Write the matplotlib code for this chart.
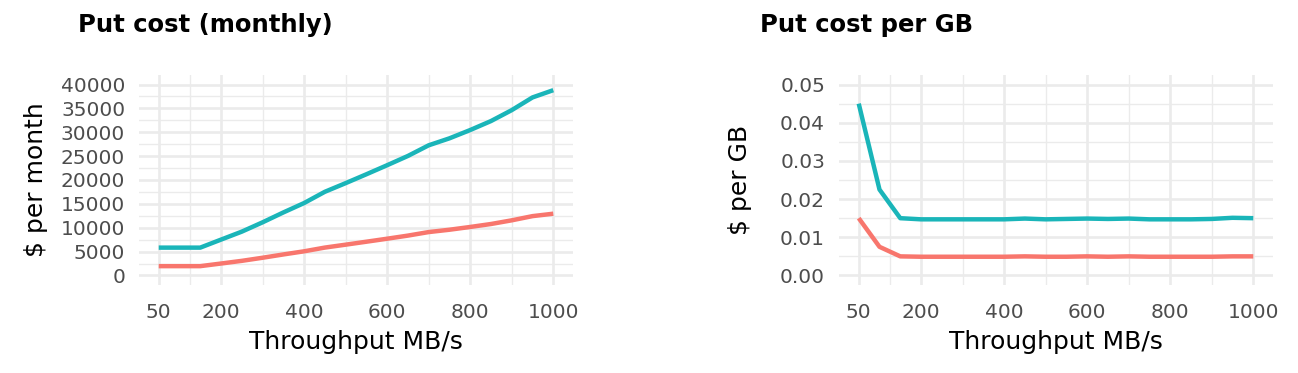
import numpy as np
import matplotlib
matplotlib.use("Agg")
import matplotlib.pyplot as plt
from matplotlib.ticker import FixedLocator

# ---------- data ----------
throughput = [50, 100, 150, 200, 250, 300, 350, 400, 450, 500,
              550, 600, 650, 700, 750, 800, 850, 900, 950, 1000]

monthly_hi = [5830, 5830, 5830, 7510, 9180, 11130, 13200, 15170, 17530, 19340,
              21200, 23100, 25040, 27270, 28730, 30470, 32350, 34640, 37300, 38820]
monthly_lo = [1950, 1950, 1950, 2500, 3060, 3710, 4400, 5060, 5840, 6450,
              7070, 7700, 8350, 9090, 9580, 10160, 10780, 11550, 12430, 12940]

pergb_hi = [0.0450, 0.0225, 0.0150, 0.0147, 0.0147, 0.0147, 0.0147, 0.0147, 0.0149, 0.0147,
            0.0148, 0.0149, 0.0148, 0.0149, 0.0147, 0.0147, 0.0147, 0.0148, 0.0151, 0.0150]
pergb_lo = [0.0150, 0.0075, 0.0050, 0.0049, 0.0049, 0.0049, 0.0049, 0.0049, 0.0050, 0.0049,
            0.0049, 0.0050, 0.0049, 0.0050, 0.0049, 0.0049, 0.0049, 0.0049, 0.0050, 0.0050]

x_major = [50, 200, 400, 600, 800, 1000]
x_minor = [125, 300, 500, 700, 900]

# ---------- style ----------
plt.rcParams.update({"font.family": "DejaVu Sans"})
C_LO, C_HI = "#F8766D", "#1AB5B9"
GRID = "#EBEBEB"

fig = plt.figure(figsize=(12.98, 3.73), dpi=100)
W, H = 1298, 373


def make_ax(left, right, top, bottom):
    return fig.add_axes([left / W, 1 - bottom / H, (right - left) / W, (bottom - top) / H])


def style(ax, ymajor, yminor, ylabels):
    ax.set_xticks(x_major)
    ax.set_xticklabels([str(v) for v in x_major])
    ax.xaxis.set_minor_locator(FixedLocator(x_minor))
    ax.set_yticks(ymajor)
    ax.set_yticklabels(ylabels)
    ax.yaxis.set_minor_locator(FixedLocator(yminor))
    ax.grid(which="major", color=GRID, lw=1.9)
    ax.grid(which="minor", color=GRID, lw=1.0)
    ax.set_axisbelow(True)
    for s in ax.spines.values():
        s.set_visible(False)
    ax.tick_params(which="both", length=0, labelsize=14.5, labelcolor="#4D4D4D")
    ax.tick_params(axis="x", pad=13)
    ax.tick_params(axis="y", pad=10)
    ax.set_xlabel("Throughput MB/s", fontsize=18, color="black", labelpad=6)
    ax.set_xlim(2.5, 1047.5)


# ===== left: monthly =====
ax1 = make_ax(139, 573, 75, 285)
ax1.plot(throughput, monthly_lo, color=C_LO, lw=3.2, solid_capstyle="butt")
ax1.plot(throughput, monthly_hi, color=C_HI, lw=3.2, solid_capstyle="butt")
yt1 = list(range(0, 40001, 5000))
style(ax1, yt1, list(range(2500, 40000, 5000)), [str(v) for v in yt1])
ax1.set_ylim(-2000, 42000)
ax1.set_ylabel("$ per month", fontsize=18, labelpad=9)
fig.text(78 / W, 1 - 25 / H, "Put cost (monthly)", fontsize=17.5, fontweight="bold",
         ha="left", va="center")

# ===== right: per GB =====
ax2 = make_ax(839, 1273, 75, 285)
ax2.plot(throughput, pergb_lo, color=C_LO, lw=3.2, solid_capstyle="butt")
ax2.plot(throughput, pergb_hi, color=C_HI, lw=3.2, solid_capstyle="butt")
yt2 = [0.0, 0.01, 0.02, 0.03, 0.04, 0.05]
style(ax2, yt2, [0.005, 0.015, 0.025, 0.035, 0.045], [f"{v:.2f}" for v in yt2])
ax2.set_ylim(-0.0025, 0.0525)
ax2.set_ylabel("$ per GB", fontsize=18, labelpad=20)
fig.text(760 / W, 1 - 25 / H, "Put cost per GB", fontsize=17.5, fontweight="bold",
         ha="left", va="center")

fig.savefig("out.png", dpi=100, facecolor="white")
